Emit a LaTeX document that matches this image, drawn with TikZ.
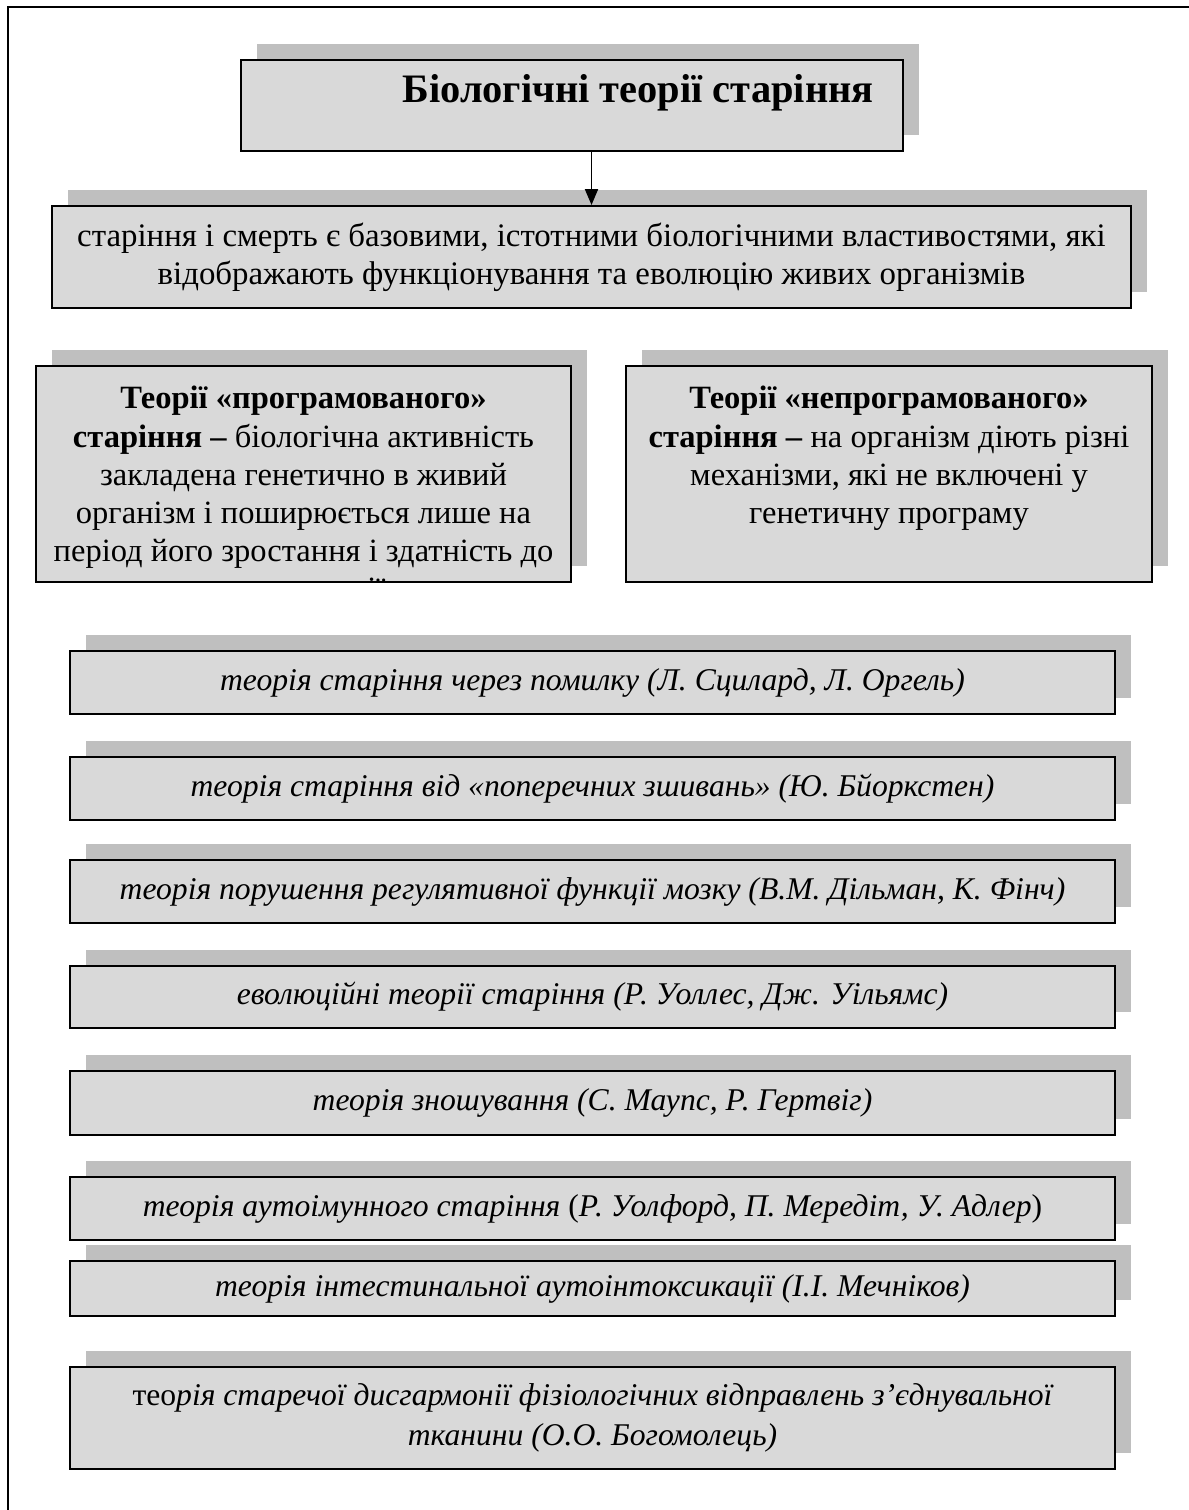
\documentclass[tikz,border=0pt]{standalone}
\usepackage{fontspec}
\setmainfont{Liberation Serif}
\usepackage{xcolor}
\usetikzlibrary{arrows.meta,calc,positioning,shadows}
\definecolor{boxgray}{RGB}{217,217,217}
\definecolor{shadowgray}{RGB}{191,191,191}
\tikzset{%
	theorybox/.style = {draw, rectangle, line width=1.1pt, fill=boxgray, inner sep=0pt, align=center, font=\fontsize{18.7pt}{21.5pt}\selectfont,
		drop shadow={shadow xshift=0.32cm, shadow yshift=0.32cm, fill=shadowgray, opacity=1}},
	itembox/.style   = {theorybox, minimum width=20.9cm, font=\fontsize{18pt}{22.5pt}\selectfont\itshape},
	boxtext/.style   = {inner sep=0pt, align=center, font=\fontsize{18.5pt}{21.7pt}\selectfont},
	arrow/.style     = {line width=1.1pt, -{Triangle[length=0.32cm, width=0.26cm]}},
}
\begin{document}
\begin{tikzpicture}[x=0.02cm,y=-0.02cm]
	\useasboundingbox (0,0) rectangle (1189,1510);
	\draw[line width=1.2pt] (8,1510) |- (1189,7);
	% top
	\node[theorybox, minimum width=13.24cm, minimum height=1.82cm] (title) at (572,105.5) {};
	\node[boxtext, font=\fontsize{23pt}{26pt}\selectfont\bfseries] (titletext) at (638,93) {Біологічні теорії старіння};
	\node[theorybox, minimum width=21.58cm, minimum height=2.04cm] (defin) at (591.5,257)
		{старіння і смерть є базовими, істотними біологічними властивостями, які\\відображають функціонування та еволюцію живих організмів};
	\draw[arrow] (title.south -| defin.north) -- (defin.north);
	% two groups
	\node[theorybox, minimum width=10.7cm, minimum height=4.32cm] (prog) at (303.5,474) {};
	\begin{scope}
		\clip ([shift={(1.5,-1.5)}]prog.south west) rectangle (prog.north east);
		\node[boxtext, anchor=north] (progtext) at (303.5,386)
			{\textbf{Теорії «програмованого»}\\\textbf{старіння –} біологічна активність\\закладена генетично в живий\\організм і поширюється лише на\\період його зростання і здатність до\\репродукції};
	\end{scope}
	\node[theorybox, minimum width=10.52cm, minimum height=4.32cm] (nonprog) at (889,474) {};
	\node[boxtext, anchor=north] (nonprogtext) at (889,386)
		{\textbf{Теорії «непрограмованого»}\\\textbf{старіння –} на організм діють різні\\механізми, які не включені у\\генетичну програму};
	% theories
	\node[itembox, minimum height=1.26cm] (error) at (592.5,682.5) {теорія старіння через помилку (Л. Сцилард, Л. Оргель)};
	\node[itembox, minimum height=1.26cm] (crosslink) at (592.5,788.5) {теорія старіння від «поперечних зшивань» (Ю. Бйоркстен)};
	\node[itembox, minimum height=1.26cm] (brain) at (592.5,891.5) {теорія порушення регулятивної функції мозку (В.М. Дільман, К. Фінч)};
	\node[itembox, minimum height=1.24cm] (evol) at (592.5,997) {еволюційні теорії старіння (Р. Уоллес, Дж. Уільямс)};
	\node[itembox, minimum height=1.28cm] (wear) at (592.5,1103) {теорія зношування (С. Маупс, Р. Гертвіг)};
	\node[itembox, minimum height=1.26cm] (autoimm) at (592.5,1208.5) {теорія аутоімунного старіння \textup{(}Р. Уолфорд, П. Мередіт, У. Адлер\textup{)}};
	\node[itembox, minimum height=1.10cm] (intest) at (592.5,1288.5) {теорія інтестинальної аутоінтоксикації (І.І. Мечніков)};
	\node[itembox, minimum height=2.04cm] (dysharm) at (592.5,1418)
		{\textup{тео}рія старечої дисгармонії фізіологічних відправлень з’єднувальної\\тканини (О.О. Богомолець)};
\end{tikzpicture}
\end{document}
